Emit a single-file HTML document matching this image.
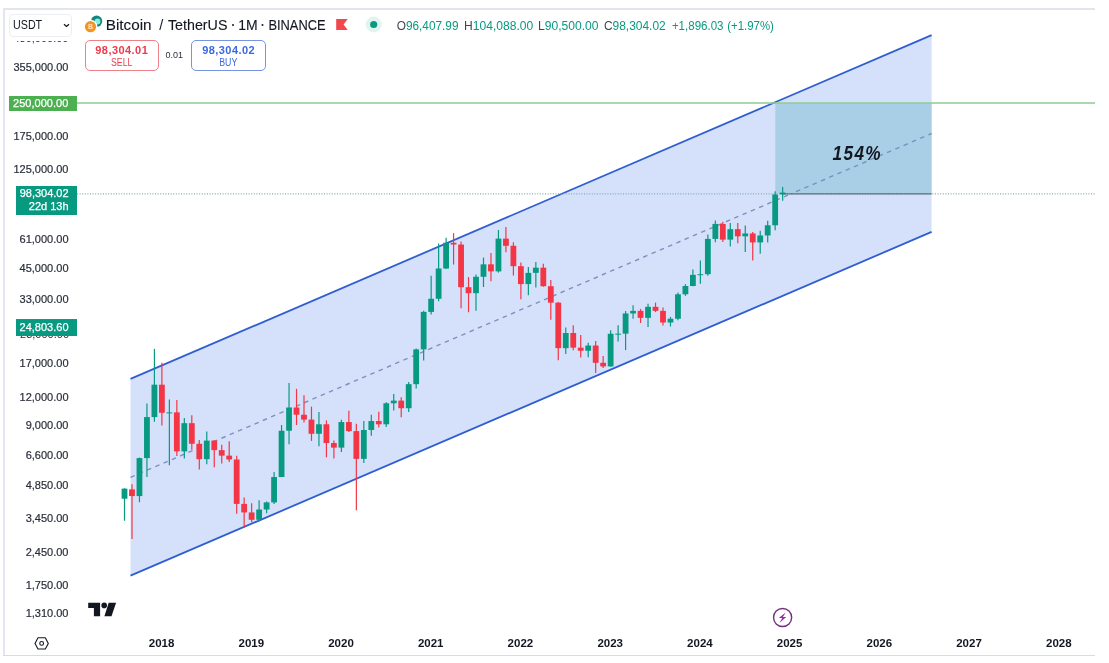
<!DOCTYPE html>
<html><head><meta charset="utf-8"><title>Bitcoin / TetherUS</title>
<style>
html,body{margin:0;padding:0;background:#fff;}
body{width:1109px;height:663px;position:relative;overflow:hidden;font-family:"Liberation Sans", sans-serif;color:#131722;}
.abs{position:absolute;}
.pl{position:absolute;left:0;width:68.5px;-webkit-text-stroke:0.2px #2a2e39;text-align:right;font-size:11px;line-height:14px;color:#2a2e39;white-space:nowrap;}
.yr{position:absolute;top:636px;width:40px;text-align:center;font-size:11.5px;font-weight:bold;line-height:14px;color:#131722;}
.tag{position:absolute;color:#fff;-webkit-text-stroke:0.25px #fff;font-size:11px;line-height:14px;text-align:right;white-space:nowrap;box-sizing:border-box;}
.ob{position:absolute;box-sizing:border-box;border-radius:5px;text-align:center;background:#fff;}
.ob b{display:block;font-size:11px;line-height:12px;margin-top:3px;letter-spacing:.45px}
.ob span{display:block;font-size:10px;line-height:11px;margin-top:1.3px;transform:scaleX(.88)}
.sx{transform-origin:0 50%;white-space:nowrap}
</style></head><body>
<div class="abs" style="left:3px;top:8px;width:1092px;height:2px;background:#e3e5ec"></div>
<div class="abs" style="left:3px;top:8px;width:1.5px;height:648px;background:#e3e5f0"></div>
<div class="abs" style="left:3px;top:655px;width:1092px;height:1px;background:#d9dbe0"></div>
<svg class="abs" style="left:0;top:0" width="1109" height="663" viewBox="0 0 1109 663">
<polygon points="130.5,378.9 931.6,35.1 931.6,231.9 130.5,575.7" fill="#d5e1fb"/>
<rect x="775.3" y="103" width="156.30000000000007" height="90.80000000000001" fill="#a9cfe6"/>
<line x1="130.5" y1="378.9" x2="931.6" y2="35.1" stroke="#2f5ed0" stroke-width="1.8"/>
<line x1="130.5" y1="575.7" x2="931.6" y2="231.9" stroke="#2f5ed0" stroke-width="1.8"/>
<line x1="130.5" y1="477.29999999999995" x2="791.0" y2="193.84" stroke="#7e90be" stroke-width="1.4" stroke-dasharray="4.5 4.5"/>
<line x1="791.0" y1="193.84" x2="931.6" y2="133.5" stroke="#6c97c2" stroke-width="1.4" stroke-dasharray="4.5 4.5" stroke-dashoffset="3.5"/>
<line x1="77" y1="103" x2="1095" y2="103" stroke="#8ecb90" stroke-width="1.6"/>
<line x1="77" y1="193.8" x2="1095" y2="193.8" stroke="#7fb0a8" stroke-width="1.2" stroke-dasharray="1 1.6"/>
<line x1="783" y1="193.8" x2="931.6" y2="193.8" stroke="#5f6f7c" stroke-width="1.2"/>
<line x1="124.50" y1="488.22" x2="124.50" y2="520.75" stroke="#089981" stroke-width="1.2"/>
<rect x="121.60" y="488.65" width="5.8" height="10.07" fill="#089981"/>
<line x1="131.98" y1="484.32" x2="131.98" y2="539.10" stroke="#f23645" stroke-width="1.2"/>
<rect x="129.08" y="489.37" width="5.8" height="6.70" fill="#f23645"/>
<line x1="139.46" y1="457.56" x2="139.46" y2="502.25" stroke="#089981" stroke-width="1.2"/>
<rect x="136.56" y="458.09" width="5.8" height="37.98" fill="#089981"/>
<line x1="146.94" y1="403.59" x2="146.94" y2="476.98" stroke="#089981" stroke-width="1.2"/>
<rect x="144.04" y="417.09" width="5.8" height="41.00" fill="#089981"/>
<line x1="154.42" y1="348.88" x2="154.42" y2="421.75" stroke="#089981" stroke-width="1.2"/>
<rect x="151.52" y="384.68" width="5.8" height="32.43" fill="#089981"/>
<line x1="161.90" y1="362.74" x2="161.90" y2="425.41" stroke="#f23645" stroke-width="1.2"/>
<rect x="159.00" y="384.69" width="5.8" height="28.08" fill="#f23645"/>
<line x1="169.37" y1="399.48" x2="169.37" y2="465.34" stroke="#089981" stroke-width="1.2"/>
<rect x="166.47" y="412.37" width="5.8" height="1.00" fill="#089981"/>
<line x1="176.85" y1="400.11" x2="176.85" y2="456.04" stroke="#f23645" stroke-width="1.2"/>
<rect x="173.95" y="412.38" width="5.8" height="38.99" fill="#f23645"/>
<line x1="184.33" y1="417.88" x2="184.33" y2="458.59" stroke="#089981" stroke-width="1.2"/>
<rect x="181.43" y="423.16" width="5.8" height="28.24" fill="#089981"/>
<line x1="191.81" y1="415.31" x2="191.81" y2="449.84" stroke="#f23645" stroke-width="1.2"/>
<rect x="188.91" y="423.16" width="5.8" height="20.61" fill="#f23645"/>
<line x1="199.29" y1="439.91" x2="199.29" y2="469.49" stroke="#f23645" stroke-width="1.2"/>
<rect x="196.39" y="443.77" width="5.8" height="15.43" fill="#f23645"/>
<line x1="206.77" y1="431.46" x2="206.77" y2="464.21" stroke="#089981" stroke-width="1.2"/>
<rect x="203.87" y="440.61" width="5.8" height="18.57" fill="#089981"/>
<line x1="214.25" y1="440.37" x2="214.25" y2="467.31" stroke="#f23645" stroke-width="1.2"/>
<rect x="211.35" y="440.55" width="5.8" height="9.59" fill="#f23645"/>
<line x1="221.73" y1="444.75" x2="221.73" y2="463.55" stroke="#f23645" stroke-width="1.2"/>
<rect x="218.83" y="450.15" width="5.8" height="5.50" fill="#f23645"/>
<line x1="229.21" y1="441.26" x2="229.21" y2="462.06" stroke="#f23645" stroke-width="1.2"/>
<rect x="226.31" y="455.65" width="5.8" height="3.82" fill="#f23645"/>
<line x1="236.69" y1="455.82" x2="236.69" y2="513.75" stroke="#f23645" stroke-width="1.2"/>
<rect x="233.78" y="459.51" width="5.8" height="44.38" fill="#f23645"/>
<line x1="244.16" y1="497.54" x2="244.16" y2="528.00" stroke="#f23645" stroke-width="1.2"/>
<rect x="241.26" y="503.89" width="5.8" height="8.53" fill="#f23645"/>
<line x1="251.64" y1="503.20" x2="251.64" y2="522.19" stroke="#f23645" stroke-width="1.2"/>
<rect x="248.74" y="512.46" width="5.8" height="7.31" fill="#f23645"/>
<line x1="259.12" y1="500.18" x2="259.12" y2="521.52" stroke="#089981" stroke-width="1.2"/>
<rect x="256.22" y="509.54" width="5.8" height="10.23" fill="#089981"/>
<line x1="266.60" y1="501.54" x2="266.60" y2="513.27" stroke="#089981" stroke-width="1.2"/>
<rect x="263.70" y="502.39" width="5.8" height="7.14" fill="#089981"/>
<line x1="274.08" y1="472.07" x2="274.08" y2="504.04" stroke="#089981" stroke-width="1.2"/>
<rect x="271.18" y="477.04" width="5.8" height="25.39" fill="#089981"/>
<line x1="281.56" y1="424.98" x2="281.56" y2="477.14" stroke="#089981" stroke-width="1.2"/>
<rect x="278.66" y="430.73" width="5.8" height="46.30" fill="#089981"/>
<line x1="289.04" y1="382.89" x2="289.04" y2="444.29" stroke="#089981" stroke-width="1.2"/>
<rect x="286.14" y="407.51" width="5.8" height="23.22" fill="#089981"/>
<line x1="296.52" y1="388.82" x2="296.52" y2="425.02" stroke="#f23645" stroke-width="1.2"/>
<rect x="293.62" y="407.51" width="5.8" height="7.21" fill="#f23645"/>
<line x1="304.00" y1="395.15" x2="304.00" y2="422.38" stroke="#f23645" stroke-width="1.2"/>
<rect x="301.10" y="414.73" width="5.8" height="4.89" fill="#f23645"/>
<line x1="311.48" y1="406.65" x2="311.48" y2="440.88" stroke="#f23645" stroke-width="1.2"/>
<rect x="308.58" y="419.60" width="5.8" height="14.21" fill="#f23645"/>
<line x1="318.95" y1="411.96" x2="318.95" y2="446.21" stroke="#089981" stroke-width="1.2"/>
<rect x="316.05" y="424.27" width="5.8" height="9.53" fill="#089981"/>
<line x1="326.43" y1="420.37" x2="326.43" y2="457.31" stroke="#f23645" stroke-width="1.2"/>
<rect x="323.53" y="424.27" width="5.8" height="18.76" fill="#f23645"/>
<line x1="333.91" y1="440.45" x2="333.91" y2="458.51" stroke="#f23645" stroke-width="1.2"/>
<rect x="331.01" y="443.04" width="5.8" height="4.57" fill="#f23645"/>
<line x1="341.39" y1="419.75" x2="341.39" y2="452.12" stroke="#089981" stroke-width="1.2"/>
<rect x="338.49" y="422.03" width="5.8" height="25.58" fill="#089981"/>
<line x1="348.87" y1="410.75" x2="348.87" y2="431.99" stroke="#f23645" stroke-width="1.2"/>
<rect x="345.97" y="422.05" width="5.8" height="9.04" fill="#f23645"/>
<line x1="356.35" y1="423.77" x2="356.35" y2="510.36" stroke="#f23645" stroke-width="1.2"/>
<rect x="353.45" y="431.09" width="5.8" height="27.79" fill="#f23645"/>
<line x1="363.83" y1="420.92" x2="363.83" y2="462.93" stroke="#089981" stroke-width="1.2"/>
<rect x="360.93" y="429.99" width="5.8" height="28.86" fill="#089981"/>
<line x1="371.31" y1="414.86" x2="371.31" y2="435.86" stroke="#089981" stroke-width="1.2"/>
<rect x="368.41" y="421.04" width="5.8" height="8.95" fill="#089981"/>
<line x1="378.79" y1="411.87" x2="378.79" y2="427.61" stroke="#f23645" stroke-width="1.2"/>
<rect x="375.89" y="421.04" width="5.8" height="3.25" fill="#f23645"/>
<line x1="386.26" y1="402.35" x2="386.26" y2="426.95" stroke="#089981" stroke-width="1.2"/>
<rect x="383.37" y="403.28" width="5.8" height="21.02" fill="#089981"/>
<line x1="393.74" y1="393.99" x2="393.74" y2="410.58" stroke="#089981" stroke-width="1.2"/>
<rect x="390.84" y="400.61" width="5.8" height="2.67" fill="#089981"/>
<line x1="401.22" y1="397.31" x2="401.22" y2="417.23" stroke="#f23645" stroke-width="1.2"/>
<rect x="398.32" y="400.61" width="5.8" height="7.60" fill="#f23645"/>
<line x1="408.70" y1="381.99" x2="408.70" y2="411.93" stroke="#089981" stroke-width="1.2"/>
<rect x="405.80" y="384.15" width="5.8" height="24.06" fill="#089981"/>
<line x1="416.18" y1="348.56" x2="416.18" y2="388.46" stroke="#089981" stroke-width="1.2"/>
<rect x="413.28" y="349.39" width="5.8" height="34.77" fill="#089981"/>
<line x1="423.66" y1="310.64" x2="423.66" y2="360.52" stroke="#089981" stroke-width="1.2"/>
<rect x="420.76" y="311.90" width="5.8" height="37.48" fill="#089981"/>
<line x1="431.14" y1="275.63" x2="431.14" y2="314.62" stroke="#089981" stroke-width="1.2"/>
<rect x="428.24" y="298.77" width="5.8" height="13.14" fill="#089981"/>
<line x1="438.62" y1="243.44" x2="438.62" y2="301.14" stroke="#089981" stroke-width="1.2"/>
<rect x="435.72" y="268.49" width="5.8" height="30.27" fill="#089981"/>
<line x1="446.10" y1="237.77" x2="446.10" y2="268.89" stroke="#089981" stroke-width="1.2"/>
<rect x="443.20" y="242.79" width="5.8" height="25.70" fill="#089981"/>
<line x1="453.58" y1="233.13" x2="453.58" y2="264.53" stroke="#f23645" stroke-width="1.2"/>
<rect x="450.68" y="242.79" width="5.8" height="1.75" fill="#f23645"/>
<line x1="461.06" y1="241.54" x2="461.06" y2="308.34" stroke="#f23645" stroke-width="1.2"/>
<rect x="458.16" y="244.54" width="5.8" height="42.67" fill="#f23645"/>
<line x1="468.53" y1="277.08" x2="468.53" y2="312.30" stroke="#f23645" stroke-width="1.2"/>
<rect x="465.63" y="287.21" width="5.8" height="5.96" fill="#f23645"/>
<line x1="476.01" y1="274.48" x2="476.01" y2="310.71" stroke="#089981" stroke-width="1.2"/>
<rect x="473.11" y="276.77" width="5.8" height="16.40" fill="#089981"/>
<line x1="483.49" y1="257.54" x2="483.49" y2="287.01" stroke="#089981" stroke-width="1.2"/>
<rect x="480.59" y="264.33" width="5.8" height="12.44" fill="#089981"/>
<line x1="490.97" y1="252.97" x2="490.97" y2="281.26" stroke="#f23645" stroke-width="1.2"/>
<rect x="488.07" y="264.33" width="5.8" height="7.03" fill="#f23645"/>
<line x1="498.45" y1="229.96" x2="498.45" y2="272.58" stroke="#089981" stroke-width="1.2"/>
<rect x="495.55" y="238.63" width="5.8" height="32.75" fill="#089981"/>
<line x1="505.93" y1="227.09" x2="505.93" y2="252.35" stroke="#f23645" stroke-width="1.2"/>
<rect x="503.03" y="238.63" width="5.8" height="7.18" fill="#f23645"/>
<line x1="513.41" y1="242.27" x2="513.41" y2="275.51" stroke="#f23645" stroke-width="1.2"/>
<rect x="510.51" y="245.81" width="5.8" height="20.37" fill="#f23645"/>
<line x1="520.89" y1="262.51" x2="520.89" y2="299.29" stroke="#f23645" stroke-width="1.2"/>
<rect x="517.99" y="266.18" width="5.8" height="17.91" fill="#f23645"/>
<line x1="528.37" y1="267.02" x2="528.37" y2="295.21" stroke="#089981" stroke-width="1.2"/>
<rect x="525.47" y="272.86" width="5.8" height="11.23" fill="#089981"/>
<line x1="535.85" y1="262.10" x2="535.85" y2="287.47" stroke="#089981" stroke-width="1.2"/>
<rect x="532.95" y="267.69" width="5.8" height="5.17" fill="#089981"/>
<line x1="543.32" y1="263.63" x2="543.32" y2="286.87" stroke="#f23645" stroke-width="1.2"/>
<rect x="540.42" y="267.69" width="5.8" height="18.55" fill="#f23645"/>
<line x1="550.80" y1="280.10" x2="550.80" y2="319.71" stroke="#f23645" stroke-width="1.2"/>
<rect x="547.90" y="286.23" width="5.8" height="16.42" fill="#f23645"/>
<line x1="558.28" y1="302.09" x2="558.28" y2="360.24" stroke="#f23645" stroke-width="1.2"/>
<rect x="555.38" y="302.65" width="5.8" height="45.52" fill="#f23645"/>
<line x1="565.76" y1="327.43" x2="565.76" y2="354.03" stroke="#089981" stroke-width="1.2"/>
<rect x="562.86" y="333.02" width="5.8" height="15.15" fill="#089981"/>
<line x1="573.24" y1="325.30" x2="573.24" y2="350.16" stroke="#f23645" stroke-width="1.2"/>
<rect x="570.34" y="333.01" width="5.8" height="14.64" fill="#f23645"/>
<line x1="580.72" y1="335.11" x2="580.72" y2="357.49" stroke="#f23645" stroke-width="1.2"/>
<rect x="577.82" y="347.66" width="5.8" height="3.09" fill="#f23645"/>
<line x1="588.20" y1="342.74" x2="588.20" y2="357.15" stroke="#089981" stroke-width="1.2"/>
<rect x="585.30" y="345.53" width="5.8" height="5.22" fill="#089981"/>
<line x1="595.68" y1="340.92" x2="595.68" y2="372.91" stroke="#f23645" stroke-width="1.2"/>
<rect x="592.78" y="345.53" width="5.8" height="17.28" fill="#f23645"/>
<line x1="603.16" y1="356.09" x2="603.16" y2="368.11" stroke="#f23645" stroke-width="1.2"/>
<rect x="600.26" y="362.80" width="5.8" height="3.61" fill="#f23645"/>
<line x1="610.63" y1="330.27" x2="610.63" y2="366.66" stroke="#089981" stroke-width="1.2"/>
<rect x="607.74" y="333.73" width="5.8" height="32.68" fill="#089981"/>
<line x1="618.11" y1="325.15" x2="618.11" y2="341.51" stroke="#089981" stroke-width="1.2"/>
<rect x="615.21" y="333.66" width="5.8" height="1.00" fill="#089981"/>
<line x1="625.59" y1="311.03" x2="625.59" y2="350.12" stroke="#089981" stroke-width="1.2"/>
<rect x="622.69" y="313.46" width="5.8" height="20.20" fill="#089981"/>
<line x1="633.07" y1="305.14" x2="633.07" y2="318.82" stroke="#089981" stroke-width="1.2"/>
<rect x="630.17" y="310.86" width="5.8" height="2.60" fill="#089981"/>
<line x1="640.55" y1="308.93" x2="640.55" y2="323.01" stroke="#f23645" stroke-width="1.2"/>
<rect x="637.65" y="310.86" width="5.8" height="7.00" fill="#f23645"/>
<line x1="648.03" y1="303.79" x2="648.03" y2="326.91" stroke="#089981" stroke-width="1.2"/>
<rect x="645.13" y="306.82" width="5.8" height="11.04" fill="#089981"/>
<line x1="655.51" y1="302.64" x2="655.51" y2="312.11" stroke="#f23645" stroke-width="1.2"/>
<rect x="652.61" y="306.82" width="5.8" height="4.05" fill="#f23645"/>
<line x1="662.99" y1="307.55" x2="662.99" y2="325.48" stroke="#f23645" stroke-width="1.2"/>
<rect x="660.09" y="310.87" width="5.8" height="11.65" fill="#f23645"/>
<line x1="670.47" y1="316.87" x2="670.47" y2="326.51" stroke="#089981" stroke-width="1.2"/>
<rect x="667.57" y="318.75" width="5.8" height="3.77" fill="#089981"/>
<line x1="677.95" y1="292.52" x2="677.95" y2="320.30" stroke="#089981" stroke-width="1.2"/>
<rect x="675.05" y="294.31" width="5.8" height="24.44" fill="#089981"/>
<line x1="685.42" y1="284.13" x2="685.42" y2="295.85" stroke="#089981" stroke-width="1.2"/>
<rect x="682.52" y="285.99" width="5.8" height="8.32" fill="#089981"/>
<line x1="692.90" y1="269.44" x2="692.90" y2="286.27" stroke="#089981" stroke-width="1.2"/>
<rect x="690.00" y="274.86" width="5.8" height="11.13" fill="#089981"/>
<line x1="700.38" y1="260.54" x2="700.38" y2="283.86" stroke="#089981" stroke-width="1.2"/>
<rect x="697.48" y="274.18" width="5.8" height="1.00" fill="#089981"/>
<line x1="707.86" y1="234.43" x2="707.86" y2="275.78" stroke="#089981" stroke-width="1.2"/>
<rect x="704.96" y="238.90" width="5.8" height="35.28" fill="#089981"/>
<line x1="715.34" y1="220.56" x2="715.34" y2="242.35" stroke="#089981" stroke-width="1.2"/>
<rect x="712.44" y="223.92" width="5.8" height="14.98" fill="#089981"/>
<line x1="722.82" y1="221.86" x2="722.82" y2="242.05" stroke="#f23645" stroke-width="1.2"/>
<rect x="719.92" y="223.92" width="5.8" height="15.72" fill="#f23645"/>
<line x1="730.30" y1="222.96" x2="730.30" y2="246.49" stroke="#089981" stroke-width="1.2"/>
<rect x="727.40" y="229.17" width="5.8" height="10.46" fill="#089981"/>
<line x1="737.78" y1="222.94" x2="737.78" y2="243.36" stroke="#f23645" stroke-width="1.2"/>
<rect x="734.88" y="229.17" width="5.8" height="7.14" fill="#f23645"/>
<line x1="745.26" y1="225.57" x2="745.26" y2="251.93" stroke="#089981" stroke-width="1.2"/>
<rect x="742.36" y="233.47" width="5.8" height="2.84" fill="#089981"/>
<line x1="752.74" y1="231.93" x2="752.74" y2="260.48" stroke="#f23645" stroke-width="1.2"/>
<rect x="749.84" y="233.47" width="5.8" height="8.93" fill="#f23645"/>
<line x1="760.22" y1="230.69" x2="760.22" y2="253.65" stroke="#089981" stroke-width="1.2"/>
<rect x="757.32" y="235.46" width="5.8" height="6.95" fill="#089981"/>
<line x1="767.69" y1="220.77" x2="767.69" y2="242.45" stroke="#089981" stroke-width="1.2"/>
<rect x="764.79" y="225.28" width="5.8" height="10.18" fill="#089981"/>
<line x1="775.17" y1="191.29" x2="775.17" y2="230.20" stroke="#089981" stroke-width="1.2"/>
<rect x="772.27" y="194.46" width="5.8" height="30.82" fill="#089981"/>
<line x1="782.65" y1="186.98" x2="782.65" y2="200.63" stroke="#089981" stroke-width="1.2"/>
<rect x="779.75" y="192.56" width="5.8" height="1.90" fill="#089981"/>
<g transform="translate(832.6 160.3) scale(0.84 1)"><text x="0" y="0" letter-spacing="1.6" font-family='"Liberation Sans", sans-serif' font-size="20.5" font-weight="bold" font-style="italic" fill="#131722">154%</text></g>
</svg>
<div class="abs" style="left:9px;top:14px;width:63px;height:23px;box-sizing:border-box;border:1px solid #eceef3;border-radius:4px;background:#fff"></div>
<div class="abs sx" style="left:12.5px;top:17px;font-size:13.4px;line-height:16px;color:#131722;transform:scaleX(.80)">USDT</div>
<svg class="abs" style="left:61px;top:22px" width="10" height="8" viewBox="0 0 10 8"><path d="M3.0 2.2 L5.5 4.5 L8.0 2.2" fill="none" stroke="#131722" stroke-width="1.25"/></svg>
<div class="abs" style="left:10px;top:40.6px;width:60px;height:4px;overflow:hidden"><div style="font-size:11px;line-height:14px;margin-top:-9.5px;color:#2a2e39;width:58.5px;text-align:right">480,000.00</div></div>
<div class="pl" style="top:60.2px">355,000.00</div>
<div class="pl" style="top:129.1px">175,000.00</div>
<div class="pl" style="top:161.8px">125,000.00</div>
<div class="pl" style="top:231.7px">61,000.00</div>
<div class="pl" style="top:261.3px">45,000.00</div>
<div class="pl" style="top:291.5px">33,000.00</div>
<div class="pl" style="top:356.1px">17,000.00</div>
<div class="pl" style="top:390.0px">12,000.00</div>
<div class="pl" style="top:418.0px">9,000.00</div>
<div class="pl" style="top:448.2px">6,600.00</div>
<div class="pl" style="top:478.2px">4,850.00</div>
<div class="pl" style="top:511.4px">3,450.00</div>
<div class="pl" style="top:544.7px">2,450.00</div>
<div class="pl" style="top:577.5px">1,750.00</div>
<div class="pl" style="top:605.7px">1,310.00</div>
<div class="abs" style="left:10px;top:335.7px;width:60px;height:4px;overflow:hidden"><div style="font-size:11px;line-height:14px;margin-top:-8.5px;color:#2a2e39;width:59px;text-align:right">23,000.00</div></div>
<div class="tag" style="left:8.8px;top:95.5px;width:67.8px;height:15.2px;background:#4caf50;padding-right:8.2px;line-height:15px;letter-spacing:.03px">250,000.00</div>
<div class="tag" style="left:16px;top:186px;width:60.5px;height:28.5px;background:#089981;padding-right:7.9px;padding-top:1.4px;line-height:12.7px">98,304.02<br>22d 13h</div>
<div class="tag" style="left:16px;top:319px;width:60.5px;height:17px;background:#089981;border-top:1.5px solid #f23645;padding-right:8px;line-height:15px">24,803.60</div>
<!-- title -->
<svg class="abs" style="left:82px;top:13px" width="24" height="22" viewBox="82 13 24 22">
<circle cx="96.6" cy="21.2" r="5.6" fill="#13857c"/>
<circle cx="97.5" cy="21.5" r="2.9" fill="#86ece2"/>
<circle cx="90.5" cy="26.7" r="6.9" fill="#fff"/>
<circle cx="90.5" cy="26.7" r="5.6" fill="#f3961f"/>
<text x="90.5" y="29.3" font-size="7" font-weight="bold" text-anchor="middle" fill="#fde3bf" font-family='"Liberation Sans", sans-serif'>B</text>
</svg>
<svg class="abs" style="left:0;top:0" width="1109" height="80" viewBox="0 0 1109 80" font-family='"Liberation Sans", sans-serif'><text stroke="#131722" stroke-width="0.12" x="105.8" y="30" textLength="45.8" lengthAdjust="spacingAndGlyphs" font-size="14" font-weight="normal" font-style="normal" fill="#131722">Bitcoin</text>
<text x="161.3" y="30" text-anchor="middle" font-size="14.5" fill="#131722">/</text>
<text stroke="#131722" stroke-width="0.12" x="168.0" y="30" textLength="59.4" lengthAdjust="spacingAndGlyphs" font-size="14" font-weight="normal" font-style="normal" fill="#131722">TetherUS</text>
<circle cx="233" cy="25" r="1.0" fill="#131722"/>
<text stroke="#131722" stroke-width="0.12" x="238.3" y="30" textLength="19.4" lengthAdjust="spacingAndGlyphs" font-size="14" font-weight="normal" font-style="normal" fill="#131722">1M</text>
<circle cx="262.5" cy="25" r="1.0" fill="#131722"/>
<text stroke="#131722" stroke-width="0.12" x="268.4" y="30" textLength="57.2" lengthAdjust="spacingAndGlyphs" font-size="14" font-weight="normal" font-style="normal" fill="#131722">BINANCE</text>
<text x="396.7" y="29.5" textLength="61.8" lengthAdjust="spacingAndGlyphs" font-size="12" fill="#089981"><tspan fill="#434651">O</tspan>96,407.99</text>
<text x="464.0" y="29.5" textLength="69.2" lengthAdjust="spacingAndGlyphs" font-size="12" fill="#089981"><tspan fill="#434651">H</tspan>104,088.00</text>
<text x="538.0" y="29.5" textLength="60.6" lengthAdjust="spacingAndGlyphs" font-size="12" fill="#089981"><tspan fill="#434651">L</tspan>90,500.00</text>
<text x="603.9" y="29.5" textLength="61.8" lengthAdjust="spacingAndGlyphs" font-size="12" fill="#089981"><tspan fill="#434651">C</tspan>98,304.02</text>
<text x="671.9" y="29.5" textLength="51.6" lengthAdjust="spacingAndGlyphs" font-size="12" font-weight="normal" font-style="normal" fill="#089981">+1,896.03</text>
<text x="727.3" y="29.5" textLength="46.6" lengthAdjust="spacingAndGlyphs" font-size="12" font-weight="normal" font-style="normal" fill="#089981">(+1.97%)</text></svg>
<svg class="abs" style="left:335px;top:17px" width="15" height="15" viewBox="335 17 15 15"><path d="M336.2 19.1 H347.7 L343.6 24.5 L347.7 29.9 H336.2 Z" fill="#f2484d"/></svg>
<svg class="abs" style="left:364px;top:15px" width="20" height="20" viewBox="364 15 20 20"><circle cx="373.7" cy="24.5" r="7.9" fill="#e3f4f0"/><circle cx="373.7" cy="24.5" r="3.6" fill="#089981"/></svg>
<div class="ob" style="left:85px;top:39.5px;width:73.5px;height:31px;border:1.3px solid #ee808a;color:#ee3a4c"><b>98,304.01</b><span>SELL</span></div>
<div class="abs" style="left:165.5px;top:49.5px;font-size:9px;line-height:11px;color:#2a2e39">0.01</div>
<div class="ob" style="left:191.4px;top:39.5px;width:74.5px;height:31px;border:1.3px solid #7893e0;color:#3b68e0"><b>98,304.02</b><span>BUY</span></div>
<!-- TV logo -->
<svg class="abs" style="left:86px;top:600px" width="34" height="20" viewBox="86 600 34 20"><path d="M88.2 602.8 H100.1 V616.3 H93.9 V607.9 H88.2 Z M108.7 602.8 H116.1 L111.5 616.3 H104.4 Z" fill="#131722"/><circle cx="104.2" cy="605.4" r="2.8" fill="#131722"/></svg>
<svg class="abs" style="left:32px;top:634px" width="20" height="20" viewBox="32 634 20 20"><path d="M38 637.8 H45.3 L48.3 643.4 L45.3 649 H38 L35 643.4 Z" fill="none" stroke="#131722" stroke-width="1.1" stroke-linejoin="round"/><circle cx="41.65" cy="643.4" r="1.9" fill="none" stroke="#131722" stroke-width="1.1"/></svg>
<svg class="abs" style="left:770px;top:605px" width="26" height="26" viewBox="770 605 26 26"><circle cx="782.6" cy="617.5" r="9.05" fill="#fff" stroke="#74307f" stroke-width="1.4"/><path d="M785.7 612.4 L778.8 618.1 H782.3 L779.4 622.9 L786.2 616.9 H782.9 Z" fill="#9c27b0"/></svg>
<div class="yr" style="left:141.6px">2018</div>
<div class="yr" style="left:231.3px">2019</div>
<div class="yr" style="left:321.0px">2020</div>
<div class="yr" style="left:410.7px">2021</div>
<div class="yr" style="left:500.4px">2022</div>
<div class="yr" style="left:590.2px">2023</div>
<div class="yr" style="left:679.9px">2024</div>
<div class="yr" style="left:769.6px">2025</div>
<div class="yr" style="left:859.3px">2026</div>
<div class="yr" style="left:949.0px">2027</div>
<div class="yr" style="left:1038.8px">2028</div>
</body></html>
